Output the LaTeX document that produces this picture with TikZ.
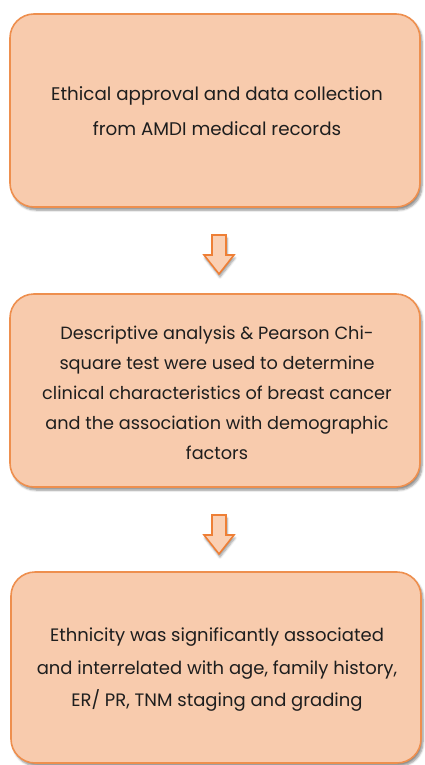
\documentclass[tikz,border=0pt]{standalone}
\usepackage{fontspec}
\setmainfont{Poppins}
\usetikzlibrary{shadows.blur}
\definecolor{boxfill}{HTML}{F8CBAD}
\definecolor{boxline}{HTML}{EE8F4E}
\definecolor{arrfill}{HTML}{FAD0B4}
\definecolor{arrline}{HTML}{EE7F36}
\definecolor{txt}{HTML}{1E1E1E}
\tikzset{
  flowbox/.style={draw=boxline, line width=1.6pt, fill=boxfill, rounded corners=24pt,
    blur shadow={shadow xshift=2pt, shadow yshift=-3pt, shadow blur steps=6, shadow opacity=45}},
  flowtext/.style={align=center, text=txt, inner sep=0pt},
  blockarrow/.style={draw=arrline, line width=1.6pt, fill=arrfill, line join=miter,
    blur shadow={shadow xshift=1pt, shadow yshift=-3pt, shadow blur steps=6, shadow opacity=40}}
}
\begin{document}
\begin{tikzpicture}[x=1pt,y=-1pt]
\useasboundingbox (0,0) rectangle (424,765);
% boxes
\draw[flowbox] (10,14) rectangle (420,207);
\draw[flowbox] (10,294) rectangle (420,487);
\draw[flowbox] (11,572) rectangle (421,763);
\node[flowtext, font=\fontsize{18.3}{35}\selectfont] (t1) at (217,111) {Ethical approval and data collection\\from AMDI medical records};
\node[flowtext, font=\fontsize{17.7}{30}\selectfont] (t2) at (217,393) {Descriptive analysis \& Pearson Chi-\\square test were used to determine\\clinical characteristics of breast cancer\\and the association with demographic\\factors};
\node[flowtext, font=\fontsize{18}{32.5}\selectfont] (t3) at (217,670) {Ethnicity was significantly associated\\and interrelated with age, family history,\\ER/ PR, TNM staging and grading};
% arrows
\foreach \yy/\nm in {235/a1, 515/a2}{
  \coordinate (\nm) at (219,\yy);
  \draw[blockarrow] ([xshift=-7pt]\nm) -- ([xshift=7pt]\nm) -- ([xshift=7pt,yshift=-20pt]\nm)
    -- ([xshift=15pt,yshift=-20pt]\nm) -- ([yshift=-39pt]\nm) -- ([xshift=-15pt,yshift=-20pt]\nm)
    -- ([xshift=-7pt,yshift=-20pt]\nm) -- cycle;
}
\end{tikzpicture}
\end{document}
